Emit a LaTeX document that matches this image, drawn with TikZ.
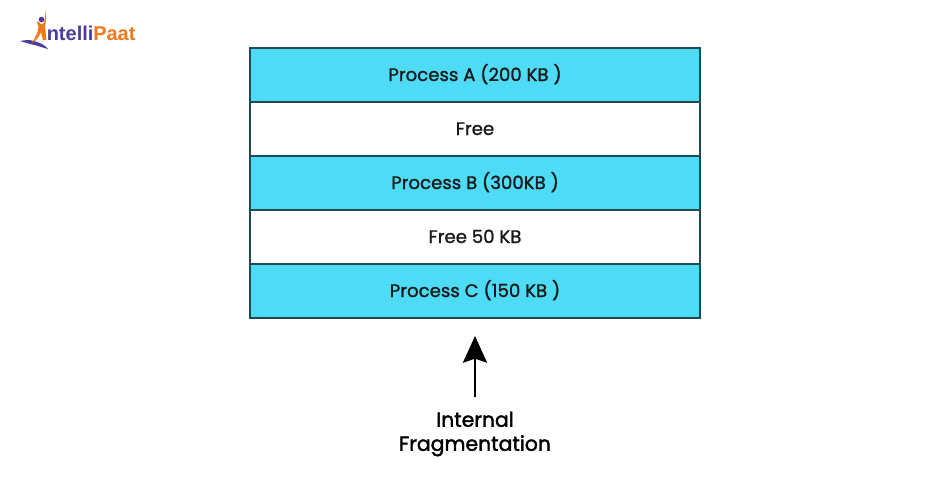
\documentclass[tikz,border=0pt]{standalone}
\usepackage{fontspec}
\setmainfont{Poppins}
\newfontfamily\cellfont{Poppins}[FakeBold=1.2]
\newfontfamily\capfont{Poppins}[FakeBold=1.9]
\newfontfamily\logofont{Liberation Sans}[BoldFont={Liberation Sans Bold}]
\usetikzlibrary{arrows.meta}
\definecolor{cellblue}{HTML}{4DDBF5}
\definecolor{edgec}{HTML}{1F4A50}
\definecolor{logopurple}{HTML}{4A3D9E}
\definecolor{logoorange}{HTML}{F07A1A}
\tikzset{
  x=0.75pt,y=-0.75pt,
  cell/.style={draw=edgec,line width=0.9pt,minimum width=337.5pt,minimum height=40.5pt,inner sep=0pt,outer sep=0pt,anchor=center,text height=9pt,text depth=0pt,font=\cellfont\fontsize{13.6pt}{15pt}\selectfont,text=black!90},
  bluecell/.style={cell,fill=cellblue},
  whitecell/.style={cell,fill=white},
  caption/.style={align=center,font=\capfont\fontsize{15.3pt}{18pt}\selectfont,text=black,inner sep=0pt},
  logotext/.style={font=\logofont\bfseries\fontsize{15pt}{16pt}\selectfont,inner sep=0pt,anchor=base west},
}
\begin{document}
\begin{tikzpicture}
\useasboundingbox[fill=white] (0,0) rectangle (950,476);
% logo
\fill[logopurple] (20,41) .. controls (28,39.5) and (33,40) .. (37,42) .. controls (42,43.5) and (46,46) .. (48,49) .. controls (42,47.5) and (36,45) .. (30,44) .. controls (27,43) and (23,42) .. (20,41) -- cycle;
\fill[logoorange] (46,10) .. controls (46.5,16) and (46,22) .. (45,26) -- (46.5,40) -- (43,40) -- (41,32) .. controls (39,37) and (36,41) .. (32,43) .. controls (35,38) and (38,33) .. (38.5,27) -- (37,22) -- (38.5,21.5) -- (41,24.5) -- (44,23) .. controls (45,18) and (45.5,14) .. (46,10) -- cycle;
\fill[logopurple] (41.5,19.5) circle (2.8);
\node[logotext,text=logopurple] (logoa) at (46.5,40) {ntelli};
\node[logotext,text=logoorange] (logob) at (93,40) {Paat};
% stack
\node[bluecell]  (pa) at (475,75)  {Process A (200 KB )};
\node[whitecell] (f1) at (475,129) {Free};
\node[bluecell]  (pb) at (475,183) {Process B (300KB )};
\node[whitecell] (f2) at (475,237) {Free 50 KB};
\node[bluecell]  (pc) at (475,291) {Process C (150 KB )};
% arrow
\node[caption] (cap) at (475,434) {Internal\\Fragmentation};
\coordinate (tail) at (475,397);
\coordinate (tip) at (475,336);
\draw[line width=2.1pt,-{Stealth[length=20pt,width=18pt,inset=3pt]}] (tail) -- (tip);
\end{tikzpicture}
\end{document}
